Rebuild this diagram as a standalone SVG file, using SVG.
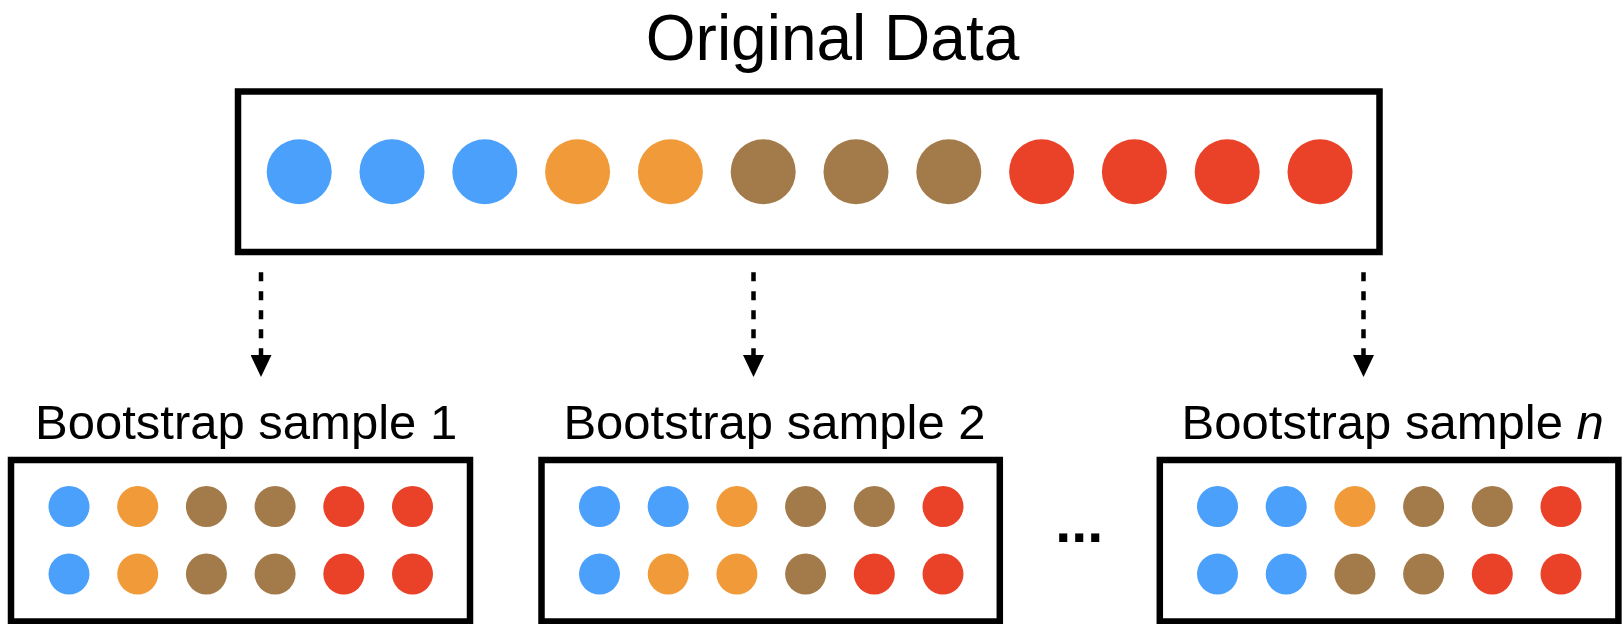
<svg xmlns="http://www.w3.org/2000/svg" width="1624" height="624" viewBox="0 0 1624 624">
<style>
.box{fill:#fff;stroke:#000;stroke-width:6.5}
.lbl{font-family:"Liberation Sans",Arial,Helvetica,sans-serif;fill:#000}
.b{fill:#4AA0FA}.o{fill:#F19A3A}.w{fill:#A37B4B}.r{fill:#EA4228}
.conn{stroke:#000;stroke-width:4.5;stroke-dasharray:9 10;fill:none}
</style>
<defs>
<marker id="ah" markerUnits="userSpaceOnUse" viewBox="0 0 22 21" refX="0" refY="10.5" markerWidth="22" markerHeight="21" orient="auto">
<path d="M0,0 L22,10.5 L0,21 z" fill="#000"/>
</marker>
</defs>
<rect width="1624" height="624" fill="#fff"/>
<g id="original">
<text class="lbl" x="645.8" y="60" font-size="64">Original Data</text>
<rect class="box" x="238" y="91.5" width="1141.5" height="160.5"/>
<g>
<circle class="b" cx="299.2" cy="171.7" r="32.5"/>
<circle class="b" cx="392" cy="171.7" r="32.5"/>
<circle class="b" cx="484.8" cy="171.7" r="32.5"/>
<circle class="o" cx="577.6" cy="171.7" r="32.5"/>
<circle class="o" cx="670.4" cy="171.7" r="32.5"/>
<circle class="w" cx="763.2" cy="171.7" r="32.5"/>
<circle class="w" cx="856" cy="171.7" r="32.5"/>
<circle class="w" cx="948.8" cy="171.7" r="32.5"/>
<circle class="r" cx="1041.6" cy="171.7" r="32.5"/>
<circle class="r" cx="1134.4" cy="171.7" r="32.5"/>
<circle class="r" cx="1227.2" cy="171.7" r="32.5"/>
<circle class="r" cx="1320" cy="171.7" r="32.5"/>
</g>
</g>
<g id="connectors">
<line class="conn" x1="261" y1="272.3" x2="261" y2="355" marker-end="url(#ah)"/>
<line class="conn" x1="753.5" y1="272.3" x2="753.5" y2="355" marker-end="url(#ah)"/>
<line class="conn" x1="1363.5" y1="272.3" x2="1363.5" y2="355" marker-end="url(#ah)"/>
</g>
<g id="sample1">
<text class="lbl" x="35" y="439.3" font-size="49">Bootstrap sample 1</text>
<rect class="box" x="11" y="460" width="459" height="161.5"/>
<circle class="b" cx="69" cy="506.5" r="20.5"/>
<circle class="o" cx="137.7" cy="506.5" r="20.5"/>
<circle class="w" cx="206.4" cy="506.5" r="20.5"/>
<circle class="w" cx="275.1" cy="506.5" r="20.5"/>
<circle class="r" cx="343.8" cy="506.5" r="20.5"/>
<circle class="r" cx="412.5" cy="506.5" r="20.5"/>
<circle class="b" cx="69" cy="574" r="20.5"/>
<circle class="o" cx="137.7" cy="574" r="20.5"/>
<circle class="w" cx="206.4" cy="574" r="20.5"/>
<circle class="w" cx="275.1" cy="574" r="20.5"/>
<circle class="r" cx="343.8" cy="574" r="20.5"/>
<circle class="r" cx="412.5" cy="574" r="20.5"/>
</g>
<g id="sample2">
<text class="lbl" x="563.4" y="439.3" font-size="49">Bootstrap sample 2</text>
<rect class="box" x="541.5" y="460" width="458.3" height="161.5"/>
<circle class="b" cx="599.5" cy="506.5" r="20.5"/>
<circle class="b" cx="668.2" cy="506.5" r="20.5"/>
<circle class="o" cx="736.9" cy="506.5" r="20.5"/>
<circle class="w" cx="805.6" cy="506.5" r="20.5"/>
<circle class="w" cx="874.3" cy="506.5" r="20.5"/>
<circle class="r" cx="943" cy="506.5" r="20.5"/>
<circle class="b" cx="599.5" cy="574" r="20.5"/>
<circle class="o" cx="668.2" cy="574" r="20.5"/>
<circle class="o" cx="736.9" cy="574" r="20.5"/>
<circle class="w" cx="805.6" cy="574" r="20.5"/>
<circle class="r" cx="874.3" cy="574" r="20.5"/>
<circle class="r" cx="943" cy="574" r="20.5"/>
</g>
<g id="ellipsis">
<text class="lbl" x="1055.3" y="541.7" font-size="57.5" font-weight="bold">...</text>
</g>
<g id="samplen">
<text class="lbl" x="1181.6" y="439.3" font-size="49">Bootstrap sample <tspan font-style="italic">n</tspan></text>
<rect class="box" x="1159.8" y="460" width="458.6" height="161.5"/>
<circle class="b" cx="1217.5" cy="506.5" r="20.5"/>
<circle class="b" cx="1286.2" cy="506.5" r="20.5"/>
<circle class="o" cx="1354.9" cy="506.5" r="20.5"/>
<circle class="w" cx="1423.6" cy="506.5" r="20.5"/>
<circle class="w" cx="1492.3" cy="506.5" r="20.5"/>
<circle class="r" cx="1561" cy="506.5" r="20.5"/>
<circle class="b" cx="1217.5" cy="574" r="20.5"/>
<circle class="b" cx="1286.2" cy="574" r="20.5"/>
<circle class="w" cx="1354.9" cy="574" r="20.5"/>
<circle class="w" cx="1423.6" cy="574" r="20.5"/>
<circle class="r" cx="1492.3" cy="574" r="20.5"/>
<circle class="r" cx="1561" cy="574" r="20.5"/>
</g>
</svg>
